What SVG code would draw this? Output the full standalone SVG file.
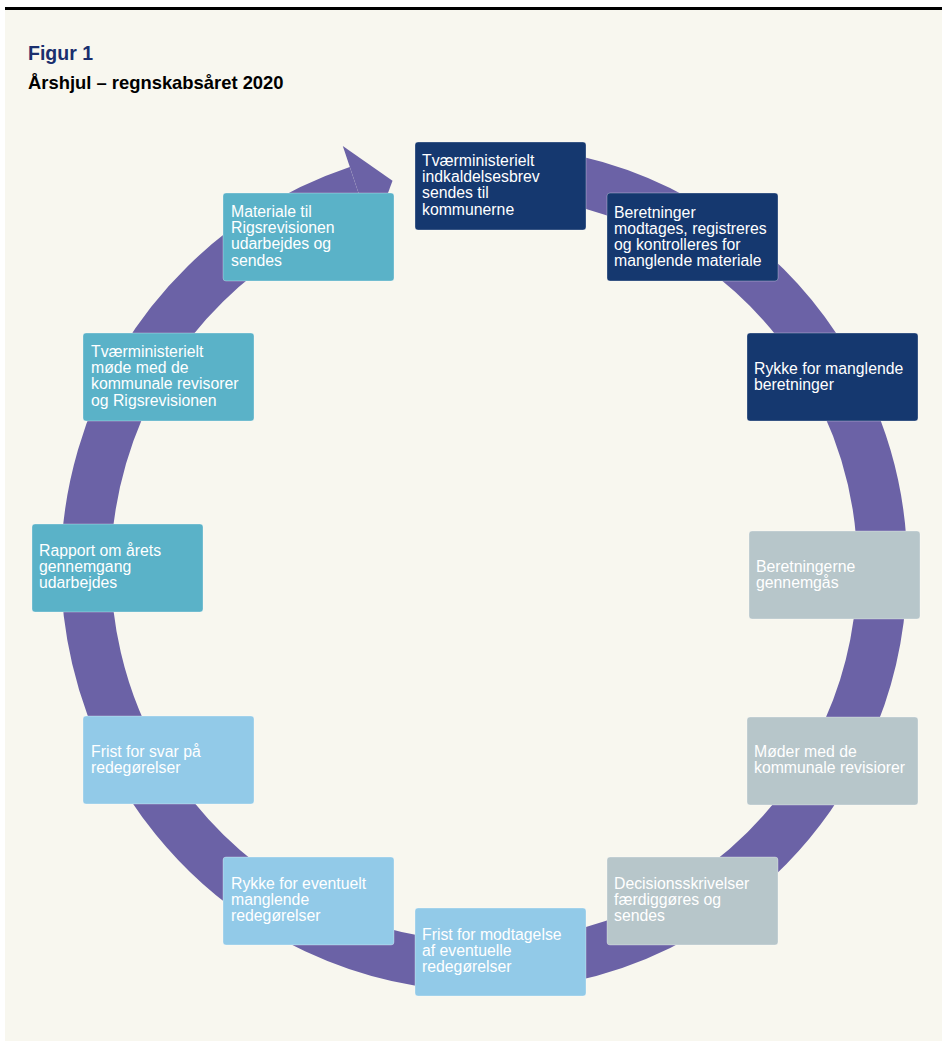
<svg xmlns="http://www.w3.org/2000/svg" width="942" height="1043" viewBox="0 0 942 1043">
  <style>
    .box { stroke: #ffffff; stroke-opacity: 0.3; stroke-width: 1; }
    .navy { fill: #15386f; }
    .grey { fill: #b7c6ca; }
    .light { fill: #92cae8; }
    .teal { fill: #5ab2c8; }
    .lbl { font-family: "Liberation Sans", Arial, sans-serif; font-size: 15.8px; fill: #ffffff; }
    .ring { fill: none; stroke: #6b62a6; stroke-width: 50; }
    .head { fill: #6b62a6; }
  </style>
  <rect x="0" y="0" width="942" height="1043" fill="#ffffff"/>
  <rect x="5" y="10" width="937" height="1031" fill="#f8f7ef"/>
  <rect x="5" y="7" width="937" height="3" fill="#000000"/>
  <text x="28" y="60" font-family="Liberation Sans, Arial, sans-serif" font-size="19.5" font-weight="bold" fill="#1a2f6e">Figur 1</text>
  <text x="28" y="89" font-family="Liberation Sans, Arial, sans-serif" font-size="18.4" font-weight="bold" fill="#000000">Årshjul – regnskabsåret 2020</text>

  <g id="connectors">
    <path class="ring" d="M 553.1 176.0 A 398 398 0 1 1 357.7 190.6"/>
    <polygon class="head" points="342.8,146.0 392.5,180.7 372.6,235.1"/>
  </g>

  <g id="n1">
    <rect class="box navy" x="415" y="142" width="171" height="88" rx="3"/>
    <text class="lbl" x="422" y="166"><tspan x="422">Tværministerielt</tspan><tspan x="422" dy="16.2">indkaldelsesbrev</tspan><tspan x="422" dy="16.2">sendes til</tspan><tspan x="422" dy="16.2">kommunerne</tspan></text>
  </g>
  <g id="n2">
    <rect class="box navy" x="607" y="193" width="171" height="88" rx="3"/>
    <text class="lbl" x="614" y="217.5"><tspan x="614">Beretninger</tspan><tspan x="614" dy="16.2">modtages, registreres</tspan><tspan x="614" dy="16.2">og kontrolleres for</tspan><tspan x="614" dy="16.2">manglende materiale</tspan></text>
  </g>
  <g id="n3">
    <rect class="box navy" x="747" y="333" width="171" height="88" rx="3"/>
    <text class="lbl" x="754" y="374"><tspan x="754">Rykke for manglende</tspan><tspan x="754" dy="16.2">beretninger</tspan></text>
  </g>
  <g id="n4">
    <rect class="box grey" x="749" y="531" width="171" height="88" rx="3"/>
    <text class="lbl" x="756" y="572"><tspan x="756">Beretningerne</tspan><tspan x="756" dy="16.2">gennemgås</tspan></text>
  </g>
  <g id="n5">
    <rect class="box grey" x="747" y="717" width="171" height="88" rx="3"/>
    <text class="lbl" x="754" y="757"><tspan x="754">Møder med de</tspan><tspan x="754" dy="16.2">kommunale revisiorer</tspan></text>
  </g>
  <g id="n6">
    <rect class="box grey" x="607" y="857" width="171" height="88" rx="3"/>
    <text class="lbl" x="614" y="889"><tspan x="614">Decisionsskrivelser</tspan><tspan x="614" dy="16.2">færdiggøres og</tspan><tspan x="614" dy="16.2">sendes</tspan></text>
  </g>
  <g id="n7">
    <rect class="box light" x="415" y="908" width="171" height="88" rx="3"/>
    <text class="lbl" x="422" y="940"><tspan x="422">Frist for modtagelse</tspan><tspan x="422" dy="16.2">af eventuelle</tspan><tspan x="422" dy="16.2">redegørelser</tspan></text>
  </g>
  <g id="n8">
    <rect class="box light" x="223" y="857" width="171" height="88" rx="3"/>
    <text class="lbl" x="231" y="888.5"><tspan x="231">Rykke for eventuelt</tspan><tspan x="231" dy="16.2">manglende</tspan><tspan x="231" dy="16.2">redegørelser</tspan></text>
  </g>
  <g id="n9">
    <rect class="box light" x="83" y="716" width="171" height="88" rx="3"/>
    <text class="lbl" x="91" y="757"><tspan x="91">Frist for svar på</tspan><tspan x="91" dy="16.2">redegørelser</tspan></text>
  </g>
  <g id="n10">
    <rect class="box teal" x="32" y="524" width="171" height="88" rx="3"/>
    <text class="lbl" x="39" y="556"><tspan x="39">Rapport om årets</tspan><tspan x="39" dy="16.2">gennemgang</tspan><tspan x="39" dy="16.2">udarbejdes</tspan></text>
  </g>
  <g id="n11">
    <rect class="box teal" x="83" y="333" width="171" height="88" rx="3"/>
    <text class="lbl" x="91" y="357"><tspan x="91">Tværministerielt</tspan><tspan x="91" dy="16.2">møde med de</tspan><tspan x="91" dy="16.2">kommunale revisorer</tspan><tspan x="91" dy="16.2">og Rigsrevisionen</tspan></text>
  </g>
  <g id="n12">
    <rect class="box teal" x="223" y="193" width="171" height="88" rx="3"/>
    <text class="lbl" x="231" y="217"><tspan x="231">Materiale til</tspan><tspan x="231" dy="16.2">Rigsrevisionen</tspan><tspan x="231" dy="16.2">udarbejdes og</tspan><tspan x="231" dy="16.2">sendes</tspan></text>
  </g>
</svg>
